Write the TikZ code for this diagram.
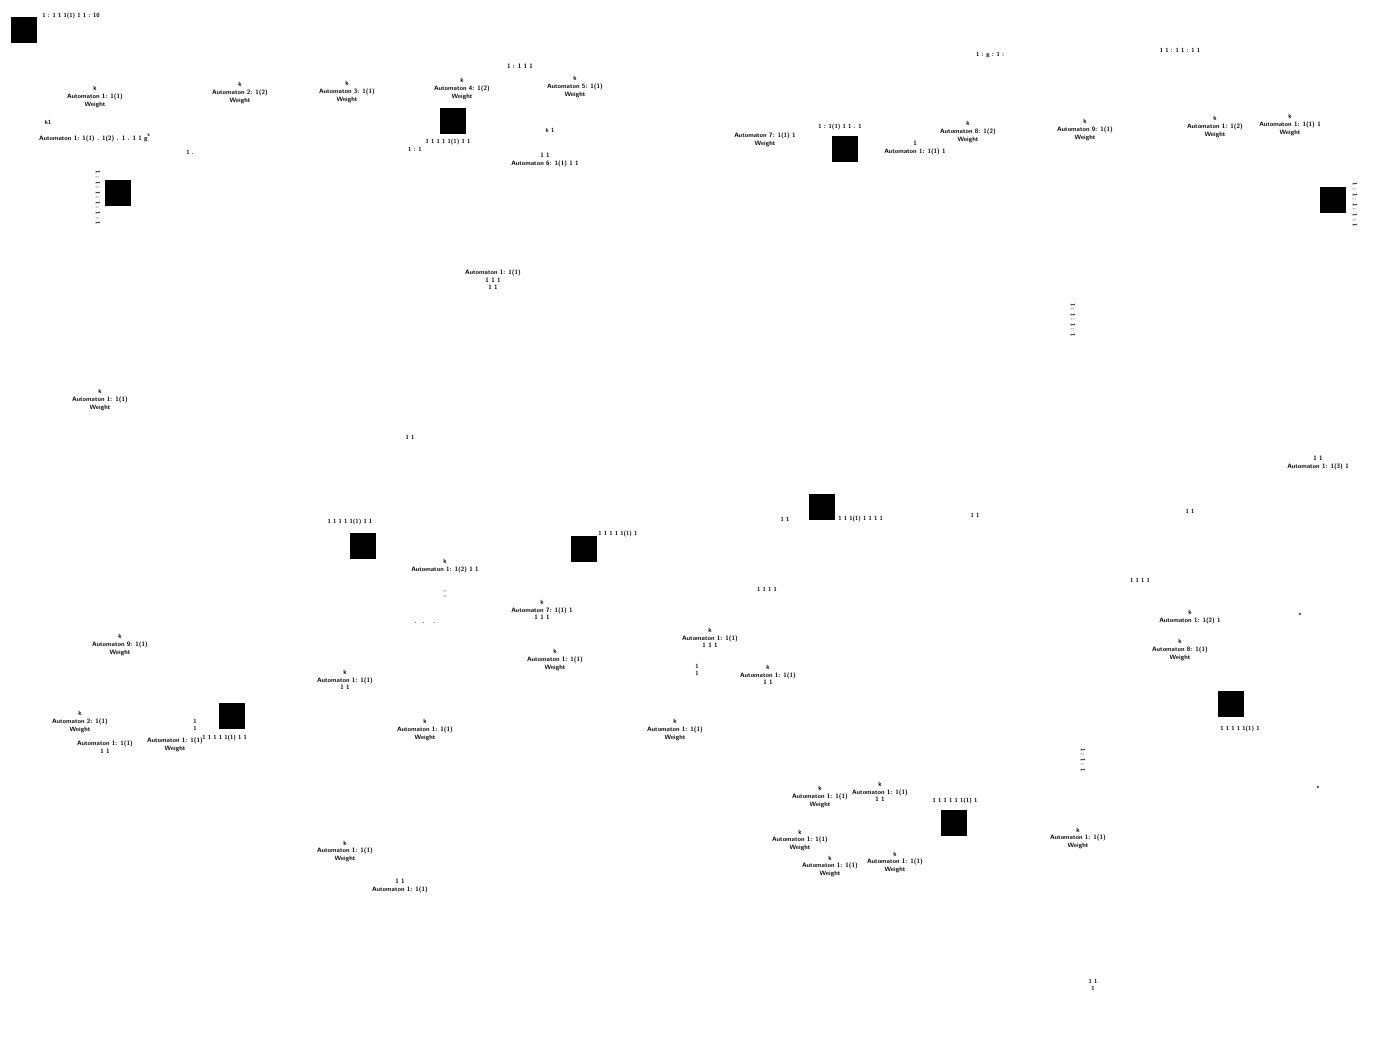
\documentclass[tikz,border=0pt]{standalone}
\usepackage{amsmath, amssymb}
\usepackage{xcolor}
\usepackage{tikz}
\usetikzlibrary{positioning}

\begin{document}
\begin{tikzpicture}[
  x=0.2mm, y=-0.2mm,
  hub/.style={fill=black, draw=black, minimum size=5mm, inner sep=0pt},
  lbl/.style={font=\fontsize{3.6}{4.3}\selectfont\sffamily\bfseries, align=center, inner sep=0pt},
  tag/.style={lbl, font=\fontsize{3.4}{4}\selectfont\sffamily\bfseries},
  vtag/.style={tag, rotate=-90},
]
\useasboundingbox (0,0) rectangle (1373,1062);

% === Hubs ===
\node[hub] (hubA) at (24,30) {};
\node[hub] (hubB) at (118,193) {};
\node[hub] (hubC) at (453,121) {};
\node[hub] (hubD) at (845,149) {};
\node[hub] (hubE) at (1333,200) {};
\node[hub] (hubF) at (822,507) {};
\node[hub] (hubG) at (363,546) {};
\node[hub] (hubH) at (584,549) {};
\node[hub] (hubI) at (232,716) {};
\node[hub] (hubJ) at (1231,704) {};
\node[hub] (hubK) at (954,823) {};

% === Hub tags ===
\node[tag, anchor=west] (tagA) at (42,16) {1 : 1 1 1(1) 1 1 : 10};
\node[tag] (tagC) at (448,142) {1 1 1 1 1(1) 1 1};
\node[tag] (tagCc) at (415,149) {1 : 1};
\node[tag] (tagD) at (840,127) {1 : 1(1) 1 1 . 1};
\node[tag, anchor=west] (tagF) at (838,519) {1 1 1(1) 1 1 1 1};
\node[tag] (tagG) at (350,522) {1 1 1 1 1(1) 1 1};
\node[tag, anchor=west] (tagH) at (598,534) {1 1 1 1 1(1) 1};
\node[tag, anchor=west] (tagI) at (202,738) {1 1 1 1 1(1) 1 1};
\node[tag] (tagJ) at (1240,729) {1 1 1 1 1(1) 1};
\node[tag] (tagK) at (955,801) {1 1 1 1 1 1(1) 1};

% === Row 1 ===
\node[lbl] (autA) at (95,97) {k\\Automaton 1: 1(1)\\Weight};
\node[lbl] (autB) at (240,93) {k\\Automaton 2: 1(2)\\Weight};
\node[lbl] (autC) at (347,92) {k\\Automaton 3: 1(1)\\Weight};
\node[lbl] (autD) at (462,89) {k\\Automaton 4: 1(2)\\Weight};
\node[lbl] (autE) at (575,87) {k\\Automaton 5: 1(1)\\Weight};
\node[lbl] (autF) at (520,66) {1 : 1 1 1};
\node[lbl] (chainA) at (95,138) {Automaton 1: 1(1) . 1(2) . 1 . 1 1 g\textsuperscript{k}};
\node[tag] (chainAk) at (48,122) {k1};
\node[tag] (chainAs) at (190,152) {1 .};
\node[vtag] (vertB) at (98,198) {1 : 1 : 1 : 1 : 1 : 1};
\node[tag] (autGk) at (550,130) {k 1};
\node[lbl] (autG) at (545,160) {1 1\\Automaton 6: 1(1) 1 1};
\node[lbl] (autH) at (765,140) {Automaton 7: 1(1) 1\\Weight};
\node[lbl] (autI) at (915,148) {1\\Automaton 1: 1(1) 1};
\node[lbl] (autJ) at (968,132) {k\\Automaton 8: 1(2)\\Weight};
\node[lbl] (autK) at (1085,130) {k\\Automaton 9: 1(1)\\Weight};
\node[lbl] (autL) at (1215,127) {k\\Automaton 1: 1(2)\\Weight};
\node[lbl] (autM) at (1290,125) {k\\Automaton 1: 1(1) 1\\Weight};
\node[tag] (topR1) at (990,55) {1 : g : 1 :};
\node[tag] (topR2) at (1180,50) {1 1 : 1 1 : 1 1};
\node[vtag] (vertE) at (1355,205) {1 : 1 : 1 : 1 : 1};

% === Middle ===
\node[lbl] (autN) at (493,280) {Automaton 1: 1(1)\\1 1 1\\1 1};
\node[vtag] (vertN) at (1073,320) {1 : 1 : 1 : 1};
\node[lbl] (autO) at (100,400) {k\\Automaton 1: 1(1)\\Weight};
\node[tag] (midA) at (410,437) {1 1};
\node[lbl] (autP) at (1318,463) {1 1\\Automaton 1: 1(3) 1};
\node[tag] (midB) at (785,519) {1 1};
\node[tag] (midC) at (975,515) {1 1};
\node[tag] (midD) at (1190,511) {1 1};

% === Row 3 ===
\node[lbl] (autQ) at (445,566) {k\\Automaton 1: 1(2) 1 1};
\node[vtag] (vertQ) at (445,594) {: :};
\node[tag] (midE) at (425,623) {.\quad . \quad .};
\node[lbl] (autR) at (542,610) {k\\Automaton 7: 1(1) 1\\1 1 1};
\node[tag] (midF) at (767,589) {1 1 1 1};
\node[tag] (midG) at (1140,580) {1 1 1 1};
\node[lbl] (autS) at (1190,617) {k\\Automaton 1: 1(2) 1};
\node[lbl] (autT) at (1180,650) {k\\Automaton 8: 1(1)\\Weight};
\node[tag] (midH) at (1300,615) {*};
\node[lbl] (autU) at (120,645) {k\\Automaton 9: 1(1)\\Weight};
\node[lbl] (autV) at (710,638) {k\\Automaton 1: 1(1)\\1 1 1};
\node[lbl] (autW) at (555,660) {k\\Automaton 1: 1(1)\\Weight};
\node[tag] (midI) at (697,670) {1\\1};
\node[lbl] (autX) at (768,675) {k\\Automaton 1: 1(1)\\1 1};
\node[lbl] (autY) at (345,680) {k\\Automaton 1: 1(1)\\1 1};

% === Row 4 ===
\node[lbl] (autZ) at (80,722) {k\\Automaton 2: 1(1)\\Weight};
\node[lbl] (autAA) at (105,747) {Automaton 1: 1(1)\\1 1};
\node[lbl] (autAB) at (175,745) {Automaton 1: 1(1)\\Weight};
\node[tag] (lowA) at (195,725) {1\\1};
\node[lbl] (autAC) at (425,730) {k\\Automaton 1: 1(1)\\Weight};
\node[lbl] (autAD) at (675,730) {k\\Automaton 1: 1(1)\\Weight};
\node[vtag] (vertJ) at (1083,760) {1 : 1 : 1};
\node[tag] (lowB) at (1318,788) {*};

% === Row 5 ===
\node[lbl] (autAE) at (820,797) {k\\Automaton 1: 1(1)\\Weight};
\node[lbl] (autAF) at (880,792) {k\\Automaton 1: 1(1)\\1 1};
\node[lbl] (autAG) at (800,840) {k\\Automaton 1: 1(1)\\Weight};
\node[lbl] (autAH) at (830,866) {k\\Automaton 1: 1(1)\\Weight};
\node[lbl] (autAI) at (895,862) {k\\Automaton 1: 1(1)\\Weight};
\node[lbl] (autAJ) at (1078,838) {k\\Automaton 1: 1(1)\\Weight};
\node[lbl] (autAK) at (345,851) {k\\Automaton 1: 1(1)\\Weight};
\node[lbl] (autAL) at (400,886) {1 1\\Automaton 1: 1(1)};
\node[tag] (lowC) at (1093,985) {1 1\\1};

\end{tikzpicture}
\end{document}
